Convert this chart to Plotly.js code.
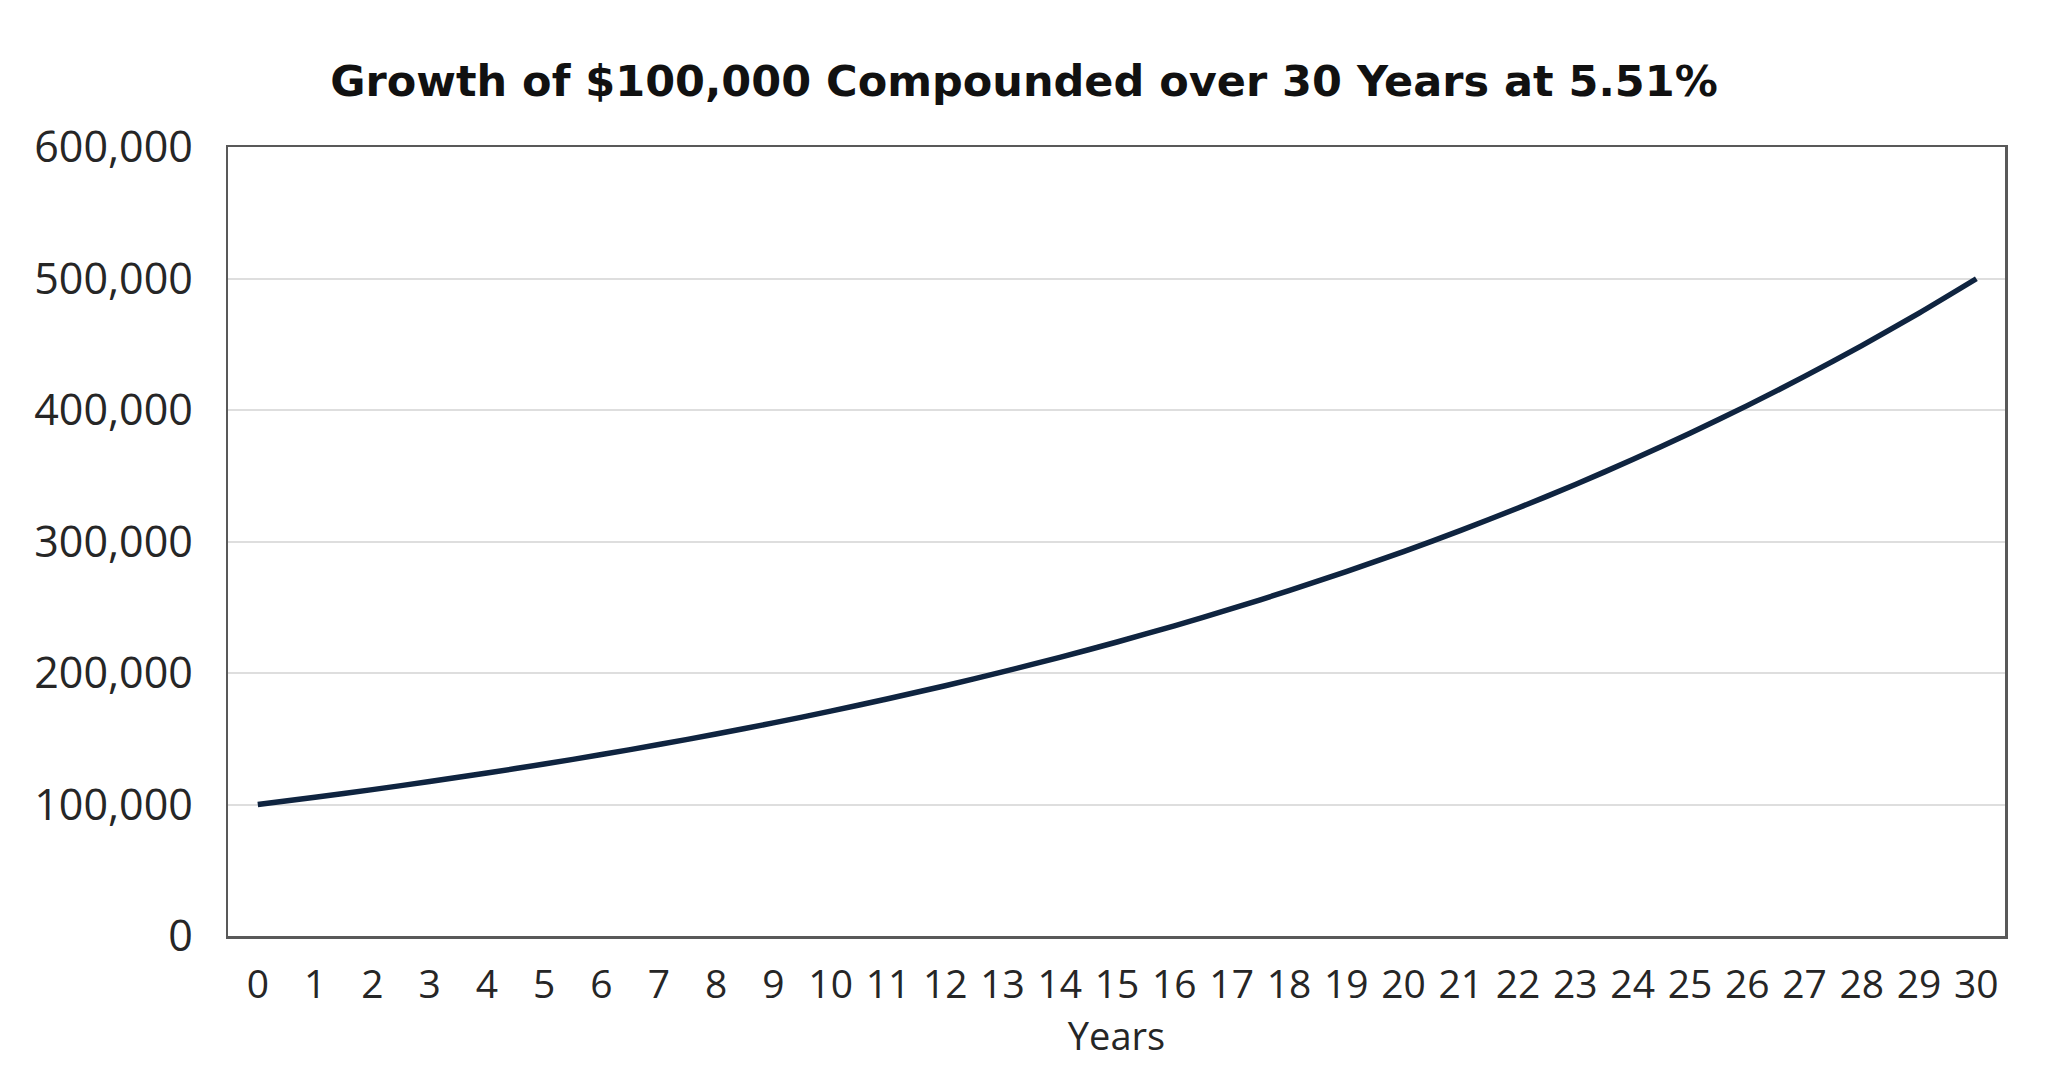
<!DOCTYPE html>
<html>
<head>
<meta charset="utf-8">
<script src="https://cdn.plot.ly/plotly-3.0.1.min.js"></script>
<style>html,body{margin:0;padding:0;background:#fff;}#chart{width:2048px;height:1075px;}</style>
</head>
<body>
<div id="chart"></div>
<script>
const years = [0,1,2,3,4,5,6,7,8,9,10,11,12,13,14,15,16,17,18,19,20,21,22,23,24,25,26,27,28,29,30];
const values = [100000,105510,111324,117458,123930,130758,137963,145565,153586,162049,170978,180399,190339,200827,211893,223568,235887,248884,262598,277067,292334,308442,325437,343369,362289,382251,403313,425536,448983,473722,499824];
const yTicks = [0,100000,200000,300000,400000,500000,600000];
const yTickText = ['0','100,000','200,000','300,000','400,000','500,000','600,000'];
const titleText = 'Growth of $100,000 Compounded over 30 Years at 5.51%';
const xTitle = 'Years';

const trace = {
  x: years, y: values, type: 'scatter', mode: 'lines',
  line: {color: '#0f2440', width: 5.5, shape: 'spline', smoothing: 0.6},
  hoverinfo: 'x+y', showlegend: false
};

const layout = {
  width: 2048, height: 1075,
  paper_bgcolor: '#ffffff', plot_bgcolor: '#ffffff',
  margin: {l: 228, r: 43, t: 147, b: 139},
  font: {family: 'Open Sans, sans-serif', color: '#262626'},
  title: {text: titleText, x: 0.5, xanchor: 'center', y: 1 - 81/1075, yanchor: 'middle',
          font: {family: 'DejaVu Sans, sans-serif', size: 43, color: '#111111', weight: 700}},
  xaxis: {
    range: [-0.52, 30.5], tickmode: 'array', tickvals: years, ticktext: years.map(String),
    showgrid: false, zeroline: false, showline: true, mirror: true, linecolor: '#595959', linewidth: 2.5,
    ticks: '', ticklabelstandoff: 13, tickfont: {size: 39, color: '#262626'},
    title: {text: xTitle, font: {size: 38, color: '#262626'}, standoff: 12}
  },
  yaxis: {
    range: [0, 600000], tickmode: 'array', tickvals: yTicks, ticktext: yTickText,
    showgrid: true, gridcolor: '#dedede', gridwidth: 2, zeroline: false,
    showline: true, mirror: true, linecolor: '#595959', linewidth: 2.5,
    ticks: '', ticklabelstandoff: 24, tickfont: {size: 43, color: '#262626'}
  }
};

Plotly.newPlot('chart', [trace], layout, {displayModeBar: false, staticPlot: true});
</script>
</body>
</html>
